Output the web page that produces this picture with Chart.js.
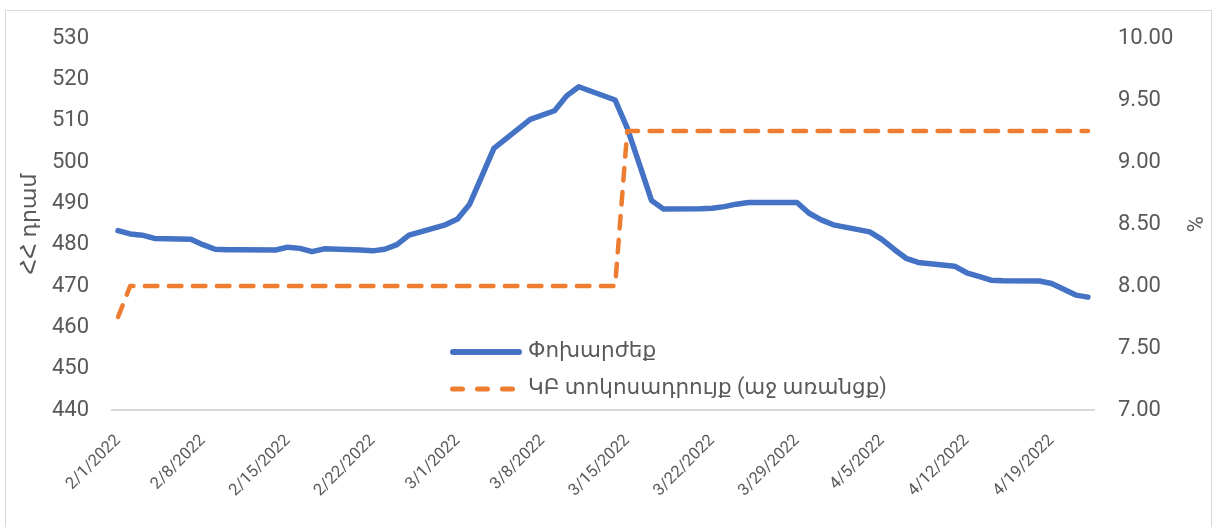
<!DOCTYPE html>
<html>
<head>
<meta charset="utf-8">
<script src="https://cdn.jsdelivr.net/npm/chart.js@4.4.1/dist/chart.umd.min.js"></script>
<style>
  html, body { margin: 0; padding: 0; background: #ffffff; }
  #wrap { position: relative; width: 1216px; height: 527px; overflow: hidden; }
  #frame { position: absolute; left: 5px; top: 10px; width: 1207px; height: 540px; border: 1px solid #d9d9d9; box-sizing: border-box; pointer-events: none; }
  canvas { position: absolute; left: 0; top: 0; }
</style>
</head>
<body>
<div id="wrap">
  <div id="frame"></div>
  <canvas id="c" width="1216" height="527"></canvas>
</div>
<script>
// ---- data (one entry per calendar day, 2/1/2022 .. 4/22/2022; null = no quote) ----
const dateLabels = [
  "2/1/2022","2/2/2022","2/3/2022","2/4/2022","2/5/2022","2/6/2022","2/7/2022",
  "2/8/2022","2/9/2022","2/10/2022","2/11/2022","2/12/2022","2/13/2022","2/14/2022",
  "2/15/2022","2/16/2022","2/17/2022","2/18/2022","2/19/2022","2/20/2022","2/21/2022",
  "2/22/2022","2/23/2022","2/24/2022","2/25/2022","2/26/2022","2/27/2022","2/28/2022",
  "3/1/2022","3/2/2022","3/3/2022","3/4/2022","3/5/2022","3/6/2022","3/7/2022",
  "3/8/2022","3/9/2022","3/10/2022","3/11/2022","3/12/2022","3/13/2022","3/14/2022",
  "3/15/2022","3/16/2022","3/17/2022","3/18/2022","3/19/2022","3/20/2022","3/21/2022",
  "3/22/2022","3/23/2022","3/24/2022","3/25/2022","3/26/2022","3/27/2022","3/28/2022",
  "3/29/2022","3/30/2022","3/31/2022","4/1/2022","4/2/2022","4/3/2022","4/4/2022",
  "4/5/2022","4/6/2022","4/7/2022","4/8/2022","4/9/2022","4/10/2022","4/11/2022",
  "4/12/2022","4/13/2022","4/14/2022","4/15/2022","4/16/2022","4/17/2022","4/18/2022",
  "4/19/2022","4/20/2022","4/21/2022","4/22/2022"
];
const exchangeRate = [
  483.4,482.6,482.3,481.5,null,null,481.3,
  480.0,478.9,478.8,478.8,null,null,478.7,
  479.4,479.1,478.3,479.0,null,null,478.7,
  478.5,478.9,480.0,482.3,null,null,484.8,
  486.2,489.8,496.5,503.3,null,null,510.3,
  null,512.4,516.0,518.2,null,null,515.0,
  508.2,499.5,490.7,488.6,null,null,488.7,
  488.8,489.2,489.8,490.2,null,null,490.2,
  490.2,487.6,486.0,484.8,null,null,483.1,
  481.3,478.9,476.7,475.7,null,null,474.8,
  473.2,472.3,471.4,471.3,null,null,471.2,
  470.6,469.2,467.8,467.3
];
const policyRate = [
  7.75,8.00,8.00,8.00,null,null,8.00,
  8.00,8.00,8.00,8.00,null,null,8.00,
  8.00,8.00,8.00,8.00,null,null,8.00,
  8.00,8.00,8.00,8.00,null,null,8.00,
  8.00,8.00,8.00,8.00,null,null,8.00,
  null,8.00,8.00,8.00,null,null,8.00,
  9.25,9.25,9.25,9.25,null,null,9.25,
  9.25,9.25,9.25,9.25,null,null,9.25,
  9.25,9.25,9.25,9.25,null,null,9.25,
  9.25,9.25,9.25,9.25,null,null,9.25,
  9.25,9.25,9.25,9.25,null,null,9.25,
  9.25,9.25,9.25,9.25
];
const seriesNames = ["Փոխարժեք", "ԿԲ տոկոսադրույք (աջ առանցք)"];
const leftAxisTitle = "ՀՀ դրամ";
const rightAxisTitle = "%";
const leftTicks = { min: 440, max: 530, step: 10 };
const rightTicks = { min: 7, max: 10, step: 0.5 };
const labelEvery = 7;

const FONT = "Roboto, 'DejaVu Sans', sans-serif";
const GREY = "#595959";
const BLUE = "#4472C4";
const ORANGE = "#ED7D31";

const innerLegend = {
  id: 'innerLegend',
  afterDatasetsDraw(chart) {
    const ctx = chart.ctx;
    const ca = chart.chartArea;
    const x0 = ca.left + 338;
    const rows = [ca.top + 314, ca.top + 351];
    ctx.save();
    ctx.lineCap = 'round';
    ctx.strokeStyle = BLUE; ctx.lineWidth = 6;
    ctx.beginPath(); ctx.moveTo(x0 + 3, rows[0]); ctx.lineTo(x0 + 69, rows[0]); ctx.stroke();
    ctx.strokeStyle = ORANGE; ctx.lineWidth = 5;
    ctx.setLineDash([10, 15]);
    ctx.beginPath(); ctx.moveTo(x0 + 2.5, rows[1]); ctx.lineTo(x0 + 66, rows[1]); ctx.stroke();
    ctx.setLineDash([]);
    ctx.fillStyle = GREY;
    ctx.font = "21.5px " + FONT;
    ctx.textBaseline = 'middle';
    ctx.textAlign = 'left';
    ctx.fillText(seriesNames[0], x0 + 78, rows[0]);
    ctx.fillText(seriesNames[1], x0 + 78, rows[1]);
    ctx.restore();
  }
};

new Chart(document.getElementById('c'), {
  type: 'line',
  data: {
    labels: dateLabels,
    datasets: [
      {
        label: seriesNames[0], data: exchangeRate, yAxisID: 'y',
        borderColor: BLUE, backgroundColor: BLUE, borderWidth: 5.5,
        pointRadius: 0, tension: 0, spanGaps: true,
        borderCapStyle: 'round', borderJoinStyle: 'round', order: 2
      },
      {
        label: seriesNames[1], data: policyRate, yAxisID: 'y1',
        borderColor: ORANGE, backgroundColor: ORANGE, borderWidth: 4.5,
        borderDash: [12.5, 11.5], borderCapStyle: 'round', borderJoinStyle: 'round',
        pointRadius: 0, tension: 0, spanGaps: true, order: 1
      }
    ]
  },
  options: {
    responsive: false,
    animation: false,
    devicePixelRatio: 1,
    layout: { padding: { top: 38, left: 0, right: 0, bottom: 0 } },
    plugins: { legend: { display: false }, tooltip: { enabled: false }, title: { display: false } },
    scales: {
      x: {
        type: 'category',
        offset: true,
        grid: { display: false, drawTicks: false },
        border: { display: true, color: '#d9d9d9', width: 2 },
        ticks: {
          autoSkip: false, maxRotation: 45, minRotation: 45,
          color: GREY, font: { family: FONT, size: 16.5 }, padding: 21,
          callback: function(v, i) { return i % labelEvery === 0 ? this.getLabelForValue(v) : ''; }
        },
        afterFit(s) { s.height = 117; }
      },
      y: {
        position: 'left',
        min: leftTicks.min, max: leftTicks.max,
        grid: { display: false, drawTicks: false },
        border: { display: false },
        ticks: { stepSize: leftTicks.step, color: GREY, font: { family: FONT, size: 22 }, padding: 23 },
        title: { display: true, text: leftAxisTitle, color: GREY, font: { family: FONT, size: 22 }, padding: { top: 17, bottom: 0 } },
        afterFit(s) { s.width = 112; }
      },
      y1: {
        position: 'right',
        min: rightTicks.min, max: rightTicks.max,
        grid: { display: false, drawTicks: false },
        border: { display: false },
        ticks: { stepSize: rightTicks.step, color: GREY, font: { family: FONT, size: 22 }, padding: 24,
                 callback: v => Number(v).toFixed(2) },
        title: { display: true, text: rightAxisTitle, color: GREY, font: { family: FONT, size: 22 }, padding: { top: 10, bottom: 0 } },
        afterFit(s) { s.width = 122; }
      }
    }
  },
  plugins: [innerLegend]
});
</script>
</body>
</html>
